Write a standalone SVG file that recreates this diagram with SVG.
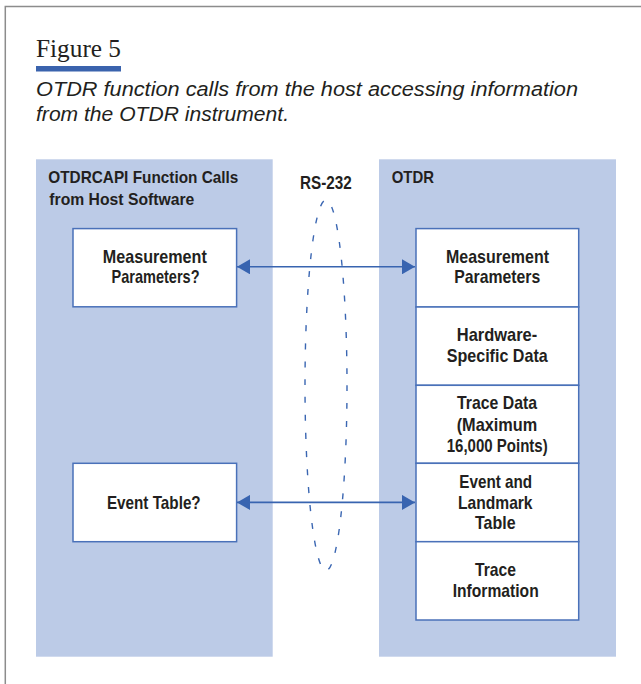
<svg xmlns="http://www.w3.org/2000/svg" width="641" height="684" viewBox="0 0 641 684">
<style>
.frame{fill:none;stroke:#8c8c8c;stroke-width:1.5}
.panel{fill:#bccbe7}
.box{fill:#ffffff;stroke:#4a71b9;stroke-width:1.5}
.t{font-family:"Liberation Sans",Arial,sans-serif;font-weight:bold;fill:#231f20}
.bt{font-size:18.5px;text-anchor:middle}
.title{font-size:17px}
.cap{font-family:"Liberation Sans",Arial,sans-serif;font-style:italic;font-size:20px;fill:#231f20}
.fig{font-family:"Liberation Serif","Times New Roman",serif;font-size:25.5px;fill:#231f20}
.conn{stroke:#3864b0;stroke-width:1.6;fill:none}
.ell{fill:none;stroke:#3a66b2;stroke-width:1.4;stroke-dasharray:6 12}
</style>
<defs>
<marker id="ah" markerUnits="userSpaceOnUse" markerWidth="13" markerHeight="15" refX="13" refY="7.5" orient="auto-start-reverse">
<path d="M0,0 L13,7.5 L0,15 Z" fill="#3864b0"/>
</marker>
</defs>
<rect width="641" height="684" fill="#ffffff"/>
<path class="frame" d="M5.3,684 V6.5 H641"/>
<g id="heading">
<text class="fig" x="36" y="57.3" textLength="85" lengthAdjust="spacingAndGlyphs">Figure 5</text>
<rect x="36" y="66" width="85" height="5.5" fill="#3a63ad"/>
<text class="cap" x="36" y="95.5" textLength="542" lengthAdjust="spacingAndGlyphs">OTDR function calls from the host accessing information</text>
<text class="cap" x="36" y="121" textLength="253" lengthAdjust="spacingAndGlyphs">from the OTDR instrument.</text>
</g>
<g id="host-panel">
<rect class="panel" x="36" y="159.3" width="236.7" height="497.4"/>
<text class="t title" x="48.3" y="183.3" textLength="190" lengthAdjust="spacingAndGlyphs">OTDRCAPI Function Calls</text>
<text class="t title" x="49.3" y="205" textLength="145" lengthAdjust="spacingAndGlyphs">from Host Software</text>
</g>
<g id="otdr-panel">
<rect class="panel" x="379" y="159.3" width="237" height="497.4"/>
<text class="t title" x="391.7" y="183.3" textLength="42.3" lengthAdjust="spacingAndGlyphs">OTDR</text>
</g>
<g id="rs232">
<text class="t" x="300" y="189.3" font-size="18" textLength="51.7" lengthAdjust="spacingAndGlyphs">RS-232</text>
<ellipse class="ell" cx="326" cy="385.3" rx="21" ry="185.3"/>
</g>
<g id="host-meas">
<rect class="box" x="73" y="228.6" width="163.6" height="78.2"/>
<text class="t bt" x="154.8" y="262.7" textLength="104" lengthAdjust="spacingAndGlyphs">Measurement</text>
<text class="t bt" x="155.5" y="282.7" textLength="88" lengthAdjust="spacingAndGlyphs">Parameters?</text>
</g>
<g id="host-event">
<rect class="box" x="73" y="463.3" width="163.6" height="78.4"/>
<text class="t bt" x="153.8" y="509" textLength="93.8" lengthAdjust="spacingAndGlyphs">Event Table?</text>
</g>
<g id="otdr-meas">
<rect class="box" x="416" y="228.6" width="162.7" height="78.4"/>
<text class="t bt" x="497.5" y="263.3" textLength="103" lengthAdjust="spacingAndGlyphs">Measurement</text>
<text class="t bt" x="497.2" y="283.3" textLength="86" lengthAdjust="spacingAndGlyphs">Parameters</text>
</g>
<g id="otdr-hw">
<rect class="box" x="416" y="307" width="162.7" height="78.3"/>
<text class="t bt" x="497" y="340.7" textLength="80.5" lengthAdjust="spacingAndGlyphs">Hardware-</text>
<text class="t bt" x="497.2" y="362" textLength="101" lengthAdjust="spacingAndGlyphs">Specific Data</text>
</g>
<g id="otdr-trace">
<rect class="box" x="416" y="385.3" width="162.7" height="78"/>
<text class="t bt" x="497" y="409" textLength="80" lengthAdjust="spacingAndGlyphs">Trace Data</text>
<text class="t bt" x="497" y="430.7" textLength="80.6" lengthAdjust="spacingAndGlyphs">(Maximum</text>
<text class="t bt" x="497.2" y="451.7" textLength="101" lengthAdjust="spacingAndGlyphs">16,000 Points)</text>
</g>
<g id="otdr-event">
<rect class="box" x="416" y="463.3" width="162.7" height="78.4"/>
<text class="t bt" x="495.7" y="488.3" textLength="72.8" lengthAdjust="spacingAndGlyphs">Event and</text>
<text class="t bt" x="495.3" y="509" textLength="74.5" lengthAdjust="spacingAndGlyphs">Landmark</text>
<text class="t bt" x="495.3" y="529.3" textLength="40.5" lengthAdjust="spacingAndGlyphs">Table</text>
</g>
<g id="otdr-traceinfo">
<rect class="box" x="416" y="541.7" width="162.7" height="78.3"/>
<text class="t bt" x="495.5" y="576" textLength="41" lengthAdjust="spacingAndGlyphs">Trace</text>
<text class="t bt" x="495.7" y="597.3" textLength="86" lengthAdjust="spacingAndGlyphs">Information</text>
</g>
<g id="connectors">
<line class="conn" x1="237" y1="266.8" x2="415" y2="266.8" marker-start="url(#ah)" marker-end="url(#ah)"/>
<line class="conn" x1="237" y1="502.4" x2="415" y2="502.4" marker-start="url(#ah)" marker-end="url(#ah)"/>
</g>
</svg>
